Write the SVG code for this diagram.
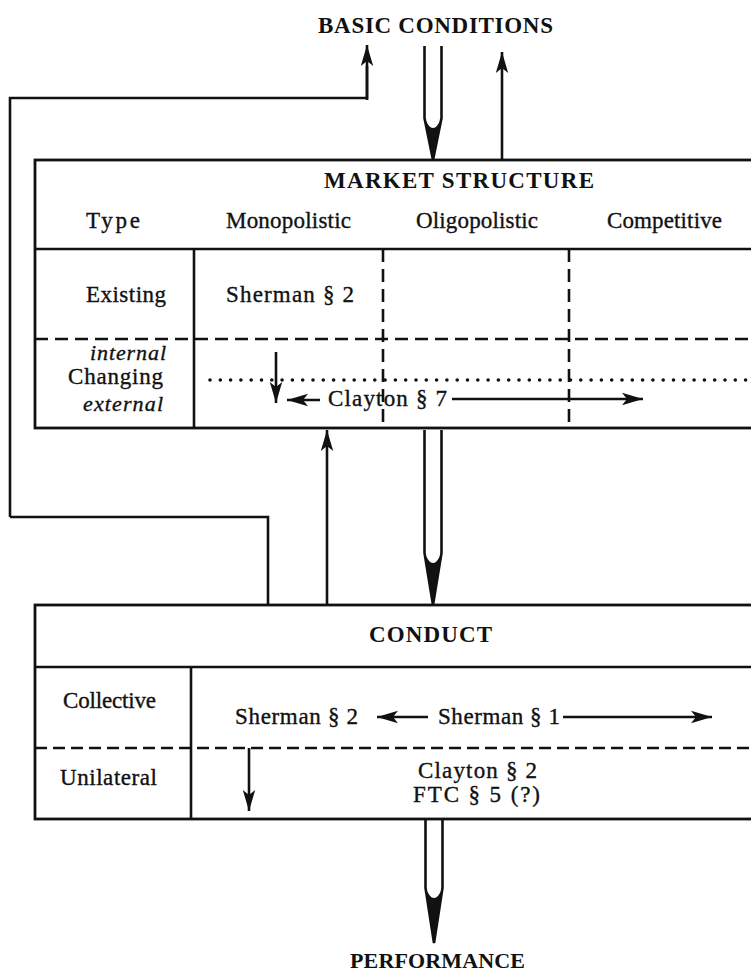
<svg xmlns="http://www.w3.org/2000/svg" width="751" height="974" viewBox="0 0 751 974">
<defs>
<style>
text{font-family:"Liberation Serif","Times New Roman",serif;fill:#111;font-size:23px;stroke:#111;stroke-width:0.35}
.t{font-weight:bold;font-size:23px;stroke-width:0}
.p{font-size:22px}
.i{font-style:italic;font-size:22px}
.ln{fill:none;stroke:#111;stroke-width:2.6}
.box{fill:#fff;stroke:#111;stroke-width:2.8}
.dash{fill:none;stroke:#111;stroke-width:2.6;stroke-dasharray:13 7}
.dash2{fill:none;stroke:#111;stroke-width:2.6;stroke-dasharray:12 6}
.dot{fill:none;stroke:#111;stroke-width:3.6;stroke-linecap:round;stroke-dasharray:0 10.3}
.arr{fill:none;stroke:#111;stroke-width:2.6;marker-end:url(#ah)}
.nibl{fill:none;stroke:#111;stroke-width:2.6;stroke-linejoin:miter}
.nibf{fill:#111;stroke:none}
</style>
<marker id="ah" markerUnits="userSpaceOnUse" markerWidth="24" markerHeight="16" refX="21" refY="8" orient="auto">
<path d="M0,1.8 L21,8 L0,14.2 L5,8 Z" fill="#111"/>
</marker>
</defs>
<rect width="751" height="974" fill="#fff"/>

<g id="connectors">
<path class="ln" d="M10,517 V98 H367 V66"/>
<path class="arr" d="M367,100 V45"/>
<path class="ln" d="M10,517 H268 V605"/>
<path class="arr" d="M502,160 V52"/>
<path class="arr" d="M327,605 V430"/>
<path class="nibl" d="M424.5,46 V118 L433,160 L441.5,118 V46"/>
<path class="nibf" d="M424.5,118 Q433,138 441.5,118 L433,160 Z"/>
<path class="nibl" d="M424.5,430 V553 L433,605 L441.5,553 V430"/>
<path class="nibf" d="M424.5,553 Q433,573 441.5,553 L433,605 Z"/>
<path class="nibl" d="M425.5,819 V888 L434,943 L442.5,888 V819"/>
<path class="nibf" d="M425.5,888 Q434,908 442.5,888 L434,943 Z"/>
</g>

<g id="basic-conditions">
<text class="t" x="318" y="33" textLength="235">BASIC CONDITIONS</text>
</g>

<g id="market-structure">
<rect class="box" x="35" y="160" width="760" height="268"/>
<line class="ln" x1="35" y1="249" x2="751" y2="249"/>
<line class="ln" x1="194" y1="249" x2="194" y2="428"/>
<line class="dash" x1="383" y1="249" x2="383" y2="428"/>
<line class="dash" x1="569" y1="249" x2="569" y2="428"/>
<line class="dash" x1="35" y1="339" x2="751" y2="339"/>
<line class="dot" x1="210" y1="380" x2="751" y2="380"/>
<text class="t" x="324" y="188" textLength="270">MARKET STRUCTURE</text>
<text x="86" y="228" textLength="54">Type</text>
<text x="226" y="228" textLength="125">Monopolistic</text>
<text x="416" y="228" textLength="122">Oligopolistic</text>
<text x="607" y="228" textLength="115">Competitive</text>
<text x="86" y="302" textLength="80">Existing</text>
<text x="226" y="302" textLength="128">Sherman § 2</text>
<text class="i" x="90" y="360" textLength="76">internal</text>
<text x="68" y="384" textLength="95">Changing</text>
<text class="i" x="83" y="411" textLength="80">external</text>
<path class="arr" d="M276,352 V403"/>
<path class="arr" d="M320,400 H287"/>
<text x="328" y="406" textLength="119">Clayton § 7</text>
<path class="arr" d="M452,399 H643"/>
</g>

<g id="conduct">
<rect class="box" x="35" y="605" width="760" height="214"/>
<line class="ln" x1="35" y1="667" x2="751" y2="667"/>
<line class="ln" x1="191" y1="667" x2="191" y2="819"/>
<line class="dash2" x1="35" y1="748" x2="751" y2="748"/>
<text class="t" x="369" y="642" textLength="123">CONDUCT</text>
<text x="63" y="708" textLength="93">Collective</text>
<text x="60" y="785" textLength="97">Unilateral</text>
<text x="235" y="724" textLength="123">Sherman § 2</text>
<path class="arr" d="M428,717 H377"/>
<text x="438" y="724" textLength="122">Sherman § 1</text>
<path class="arr" d="M563,717 H712"/>
<path class="arr" d="M249,748 V811"/>
<text x="418" y="778" textLength="119">Clayton § 2</text>
<text x="413" y="802" textLength="127">FTC § 5 (?)</text>
</g>

<g id="performance">
<text class="t p" x="350" y="968" textLength="175">PERFORMANCE</text>
</g>
</svg>
